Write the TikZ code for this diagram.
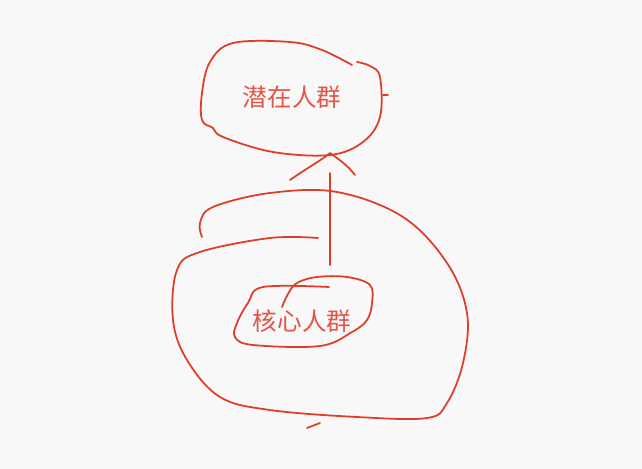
\documentclass[tikz,border=0pt]{standalone}
\usepackage{fontspec}
\newfontfamily\cjk{Noto Sans CJK SC}
\definecolor{pen}{RGB}{224,60,40}
\definecolor{ink}{RGB}{226,86,72}
\definecolor{paper}{RGB}{248,248,248}
\begin{document}
\begin{tikzpicture}[x=0.02cm, y=-0.02cm,
    stroke/.style={pen, line width=1pt, line cap=round, line join=round},
    grouplabel/.style={ink, font=\cjk\fontsize{14}{14}\selectfont}]
    % Paper
    \fill[paper] (0,0) rectangle (642,469);

    % Latent group
    \node[grouplabel] (latent) at (292,97) {潜在人群};
    \draw[stroke] plot[smooth, tension=0.6] coordinates {(352,65) (322,50) (290,42) (233,43) (210,62) (202,93) (202,120) (213,128) (223,137) (273,152) (330,155) (363,142) (380,117) (380,77) (370,66) (357,62)};
    \draw[stroke] (383,95) -- (388,95);

    % Core group
    \node[grouplabel] (core) at (302,321) {核心人群};
    \draw[stroke] plot[smooth, tension=0.6] coordinates {(329,287) (263,287) (248,303) (237,323) (235,337) (253,345) (320,346) (352,332) (367,320) (372,303) (370,285) (347,277) (317,277) (297,283) (288,294) (282,307)};

    % Arrow from core to latent
    \coordinate (stem) at (330,265);
    \coordinate (neck) at (330,173);
    \coordinate (tip) at (330,153);
    \draw[stroke] (stem) -- (neck);
    \draw[stroke] (290,180) .. controls (310,166) and (322,160) .. (tip) .. controls (340,160) and (348,166) .. (355,175);

    % Spiral round the core
    \draw[stroke] plot[smooth, tension=0.6] coordinates {(202,237) (200,223) (213,207) (270,193) (337,192) (403,217) (447,263) (467,313) (463,363) (447,403) (427,418) (357,417) (270,410) (220,397) (187,360) (173,320) (177,270) (200,252) (270,238) (318,238)};
    \draw[stroke] (307,428) -- (320,423);
\end{tikzpicture}
\end{document}
